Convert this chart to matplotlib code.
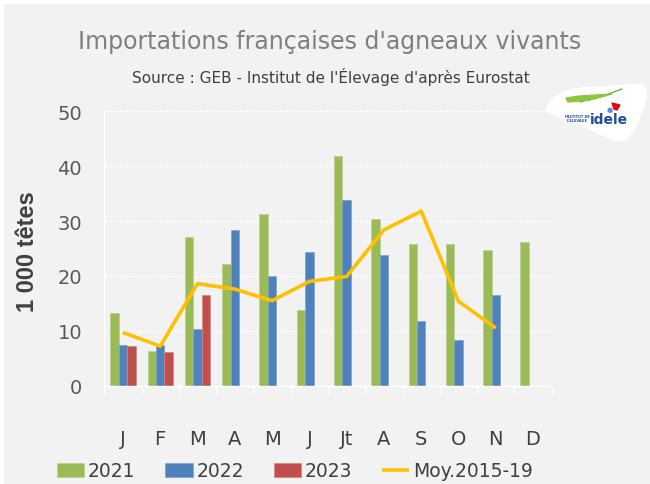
import matplotlib
matplotlib.use("Agg")
import matplotlib.pyplot as plt
import numpy as np
from matplotlib.patches import Rectangle, PathPatch, Polygon
from matplotlib.path import Path

months = ["J", "F", "M", "A", "M", "J", "Jt", "A", "S", "O", "N", "D"]
v2021 = [13.2, 6.4, 27.1, 22.1, 31.2, 13.8, 41.8, 30.4, 25.8, 25.8, 24.8, 26.2]
v2022 = [7.4, 7.5, 10.3, 28.4, 20.0, 24.4, 33.9, 23.8, 11.7, 8.3, 16.5]
v2023 = [7.3, 6.1, 16.5]
moy = [9.7, 7.2, 18.6, 17.6, 15.5, 19.0, 19.9, 28.4, 31.8, 15.4, 10.5]

W, H = 650, 485
bg = "#f2f2f2"

def px(x, y):
    # pixel coords (top-left origin) -> figure fraction
    return (x / W, 1 - y / H)

fig = plt.figure(figsize=(W / 100, H / 100), dpi=100, facecolor="white")
fig.patches.append(Rectangle(px(4, H), (W - 4) / W, (H - 5) / H,
                             transform=fig.transFigure, color=bg, zorder=-10))

ax = fig.add_axes([104.3 / W, 1 - 386.7 / H, 447.4 / W, 274.4 / H])
ax.set_facecolor(bg)

bw = 0.225
x = np.arange(len(months))
b1 = ax.bar(x - bw, v2021, bw, color="#9bbb59", edgecolor="#b8cf8a", lw=0.5, zorder=2)
b2 = ax.bar(x[:len(v2022)], v2022, bw, color="#4f81bd", edgecolor="#7fa2cf", lw=0.5, zorder=2)
b3 = ax.bar(x[:len(v2023)] + bw, v2023, bw, color="#c0504d", edgecolor="#d48583", lw=0.5, zorder=2)
l1, = ax.plot(x[:len(moy)], moy, color="#ffc000", lw=2.6, zorder=3, solid_capstyle="butt")

ax.set_xlim(-0.5, 11.5)
ax.set_ylim(0, 50)
ax.set_yticks(range(0, 51, 10))
ax.yaxis.grid(True, color="white", lw=0.9, ls=(0, (3, 1)), zorder=1)
ax.set_axisbelow(True)
for s in ["top", "right"]:
    ax.spines[s].set_visible(False)
ax.spines["left"].set_color("white")
ax.spines["bottom"].set_color("white")
ax.spines["left"].set_linewidth(1.0)
ax.spines["bottom"].set_linewidth(1.0)

ax.set_xticks(x)
ax.set_xticklabels(months)
ax.set_xticks(np.arange(-0.5, 12, 1), minor=True)
ax.tick_params(axis="x", which="major", length=0, pad=31, labelsize=14, labelcolor="#404040")
ax.tick_params(axis="x", which="minor", length=5, color="white", width=1)
ax.tick_params(axis="y", length=0, pad=16, labelsize=14, labelcolor="#595959")

fig.text(27 / W, 1 - 252 / H, "1 000 têtes", rotation=90, ha="center", va="center",
         fontsize=17, fontweight="bold", color="#404040", family="Liberation Sans")

fig.text(330 / W, 1 - 42 / H, "Importations françaises d'agneaux vivants",
         ha="center", va="center", fontsize=17, color="#7f7f7f")
fig.text(331 / W, 1 - 77 / H, "Source : GEB - Institut de l'Élevage d'après Eurostat",
         ha="center", va="center", fontsize=11, color="#404040")

leg = fig.legend([b1, b2, b3, l1], ["2021", "2022", "2023", "Moy.2015-19"],
                 loc="center", bbox_to_anchor=(295 / W, 1 - 472 / H), ncol=4,
                 frameon=False, fontsize=13.5, handlelength=1.45, handleheight=0.7,
                 handletextpad=0.2, columnspacing=1.6, borderaxespad=0)
for t in leg.get_texts():
    t.set_color("#404040")

# logo
verts = [px(546, 110), px(548, 100), px(560, 90), px(585, 88),
         px(638, 85),
         px(648, 85), px(648, 95), px(645, 105),
         px(640, 120), px(635, 135), px(625, 141),
         px(620, 144), px(612, 142), px(605, 138),
         px(585, 128), px(560, 118), px(546, 113),
         px(546, 110)]
codes = [Path.MOVETO, Path.CURVE4, Path.CURVE4, Path.CURVE4, Path.LINETO,
         Path.CURVE4, Path.CURVE4, Path.CURVE4,
         Path.CURVE4, Path.CURVE4, Path.CURVE4,
         Path.CURVE4, Path.CURVE4, Path.CURVE4,
         Path.CURVE4, Path.CURVE4, Path.CURVE4, Path.CLOSEPOLY]
fig.patches.append(PathPatch(Path(verts, codes), transform=fig.transFigure,
                             facecolor="white", edgecolor="none", zorder=1))
fig.patches.append(Polygon([px(566, 99), px(580, 97), px(612, 95), px(590, 101), px(568, 103)],
                           transform=fig.transFigure, color="#8dc63f", zorder=2))
fig.lines.append(plt.Line2D([580 / W, 600 / W, 622 / W], [1 - 103 / H, 1 - 98 / H, 1 - 90 / H],
                            transform=fig.transFigure, color="#3aa935", lw=0.8, zorder=2))
fig.patches.append(Polygon([px(612, 104), px(620, 106), px(617, 111), px(614, 110)],
                           transform=fig.transFigure, color="#e30613", zorder=2))
fig.text(610 / W, 1 - 110 / H, "●", fontsize=5, color="#5b8fd0", ha="center", va="center")
fig.text(577 / W, 1 - 117.5 / H, "INSTITUT DE", fontsize=2.5, color="#1f4e9c",
         fontweight="bold", ha="center", va="center")
fig.text(577 / W, 1 - 121.5 / H, "L'ÉLEVAGE", fontsize=2.5, color="#1f4e9c",
         fontweight="bold", ha="center", va="center")
fig.text(590 / W, 1 - 120 / H, "idele", fontsize=10, color="#1f4e9c",
         fontweight="bold", ha="left", va="center")

fig.savefig("out.png", dpi=100, facecolor="white")
